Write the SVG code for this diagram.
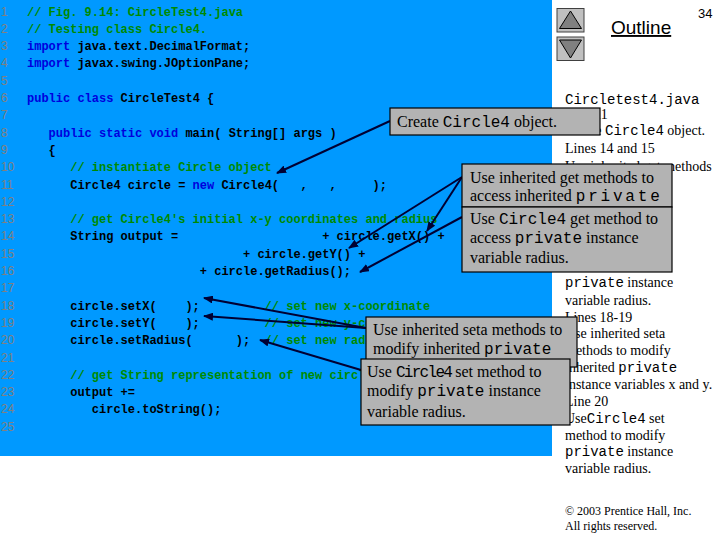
<svg xmlns="http://www.w3.org/2000/svg" width="720" height="540" viewBox="0 0 720 540">
<style>
.code{font-family:"Liberation Mono","DejaVu Sans Mono",monospace;font-size:12px;font-weight:bold;fill:#000000}
.kw{fill:#0000DD}
.cm{fill:#008A00}
.ln{font-family:"Liberation Sans",Arial,sans-serif;font-size:12px;fill:#808080}
.box{fill:#B3B3B3;stroke:#000000;stroke-width:1.2}
.bt{font-family:"Liberation Serif","Times New Roman",serif;font-size:16px;fill:#000000}
.bm{font-family:"Liberation Mono","Courier New",monospace;font-size:16px}
.rt{font-family:"Liberation Serif","Times New Roman",serif;font-size:14px;fill:#000000}
.rm{font-family:"Liberation Mono","Courier New",monospace;font-size:14px}
.conn{stroke:#000033;stroke-width:2;fill:none;marker-end:url(#ah)}
.btn{fill:#C0C0C0;stroke:#404040;stroke-width:1}
.tri{fill:#808080;stroke:#000000;stroke-width:1}
</style>
<defs>
<marker id="ah" viewBox="0 0 10 8" refX="9" refY="4" markerWidth="10" markerHeight="8" orient="auto" markerUnits="userSpaceOnUse">
<path d="M0,0 L10,4 L0,8 z" fill="#000033"/>
</marker>
</defs>
<rect x="0" y="0" width="720" height="540" fill="#FFFFFF"/>
<rect id="codePanel" x="0" y="0" width="552" height="456" fill="#0099FF"/>

<g id="lineNumbers" class="ln">
<text x="1" y="15.5">1</text>
<text x="1" y="32.8">2</text>
<text x="1" y="50.1">3</text>
<text x="1" y="67.4">4</text>
<text x="1" y="84.7">5</text>
<text x="1" y="102">6</text>
<text x="1" y="119.3">7</text>
<text x="1" y="136.6">8</text>
<text x="1" y="153.9">9</text>
<text x="1" y="171.2">10</text>
<text x="1" y="188.5">11</text>
<text x="1" y="205.8">12</text>
<text x="1" y="223.1">13</text>
<text x="1" y="240.4">14</text>
<text x="1" y="257.7">15</text>
<text x="1" y="275">16</text>
<text x="1" y="292.3">17</text>
<text x="1" y="309.6">18</text>
<text x="1" y="326.9">19</text>
<text x="1" y="344.2">20</text>
<text x="1" y="361.5">21</text>
<text x="1" y="378.8">22</text>
<text x="1" y="396.1">23</text>
<text x="1" y="413.4">24</text>
<text x="1" y="430.7">25</text>
</g>

<g id="code" class="code">
<text x="27" y="15.5" class="cm">// Fig. 9.14: CircleTest4.java</text>
<text x="27" y="32.8" class="cm">// Testing class Circle4.</text>
<text x="27" y="50.1"><tspan class="kw">import</tspan> java.text.DecimalFormat;</text>
<text x="27" y="67.4"><tspan class="kw">import</tspan> javax.swing.JOptionPane;</text>
<text x="27" y="102"><tspan class="kw">public class</tspan> CircleTest4 {</text>
<text x="48.6" y="136.6"><tspan class="kw">public static void</tspan> main( String[] args )</text>
<text x="48.6" y="153.9">{</text>
<text x="70.2" y="171.2" class="cm">// instantiate Circle object</text>
<text x="70.2" y="188.5">Circle4 circle = <tspan class="kw">new</tspan> Circle4(</text>
<text x="300.6" y="188.5">,</text>
<text x="329.4" y="188.5">,</text>
<text x="372.6" y="188.5">);</text>
<text x="70.2" y="223.1" class="cm">// get Circle4's initial x-y coordinates and radius</text>
<text x="70.2" y="240.4">String output =</text>
<text x="322.2" y="240.4">+ circle.getX() +</text>
<text x="243" y="257.7">+ circle.getY() +</text>
<text x="199.8" y="275">+ circle.getRadius();</text>
<text x="70.2" y="309.6">circle.setX(</text>
<text x="185.4" y="309.6">);</text>
<text x="264.6" y="309.6" class="cm">// set new x-coordinate</text>
<text x="70.2" y="326.9">circle.setY(</text>
<text x="185.4" y="326.9">);</text>
<text x="264.6" y="326.9" class="cm">// set new y-coordinate</text>
<text x="70.2" y="344.2">circle.setRadius(</text>
<text x="235.8" y="344.2">);</text>
<text x="264.6" y="344.2" class="cm">// set new radius</text>
<text x="70.2" y="378.8" class="cm">// get String representation of new circle</text>
<text x="70.2" y="396.1">output +=</text>
<text x="91.8" y="413.4">circle.toString();</text>
</g>

<g id="outlineNav">
<rect class="btn" x="557" y="8.5" width="27" height="23.5"/>
<polygon class="tri" points="570.5,11 559.5,28.5 581.5,28.5"/>
<rect class="btn" x="557" y="37" width="27" height="23.5"/>
<polygon class="tri" points="559.5,40 581.5,40 570.5,58"/>
<text x="611" y="34" font-family="Liberation Sans,Arial,sans-serif" font-size="19" text-decoration="underline" fill="#000000">Outline</text>
<text x="698" y="18" font-family="Liberation Sans,Arial,sans-serif" font-size="13" fill="#000000">34</text>
</g>

<g id="notesColumn" class="rt">
<text x="565" y="103.6" class="rm">Circletest4.java</text>
<text x="565" y="119">Line 11</text>
<text x="565" y="134.5">Create <tspan class="rm">Circle4</tspan> object.</text>
<text x="565" y="153">Lines 14 and 15</text>
<text x="565" y="170.5">Use inherited get methods</text>
<text x="565" y="287"><tspan class="rm">private</tspan> instance</text>
<text x="565" y="305.2">variable radius.</text>
<text x="565" y="322">Lines 18-19</text>
<text x="565" y="338">Use inherited seta</text>
<text x="565" y="355">methods to modify</text>
<text x="565" y="372">inherited <tspan class="rm">private</tspan></text>
<text x="565" y="389">instance variables x and y.</text>
<text x="565" y="406">Line 20</text>
<text x="565" y="422.8">Use<tspan class="rm">Circle4</tspan> set</text>
<text x="565" y="439.6">method to modify</text>
<text x="565" y="456.4"><tspan class="rm">private</tspan> instance</text>
<text x="565" y="473.2">variable radius.</text>
<text x="565" y="515" font-size="12">© 2003 Prentice Hall, Inc.</text>
<text x="565" y="530" font-size="12">All rights reserved.</text>
</g>

<g id="connectors">
<line class="conn" x1="390" y1="121" x2="277" y2="173"/>
<line class="conn" x1="462" y1="177" x2="427" y2="231"/>
<line class="conn" x1="462" y1="177" x2="349" y2="248"/>
<line class="conn" x1="462" y1="217" x2="360" y2="272"/>
<line class="conn" x1="366" y1="328" x2="204" y2="298"/>
<line class="conn" x1="366" y1="328" x2="204" y2="316"/>
<line class="conn" x1="361" y1="370" x2="260" y2="340"/>
</g>

<g id="calloutCreate">
<rect class="box" x="390" y="108" width="210" height="27"/>
<text class="bt" x="397" y="127">Create <tspan class="bm">Circle4</tspan> object.</text>
</g>

<g id="calloutInheritedGet">
<rect class="box" x="462" y="164" width="210" height="43"/>
<text class="bt" x="470" y="183">Use inherited get methods to</text>
<text class="bt" x="470" y="201">access inherited <tspan class="bm" textLength="84" lengthAdjust="spacing">private</tspan></text>
</g>

<g id="calloutCircle4Get">
<rect class="box" x="462" y="207" width="210" height="65"/>
<text class="bt" x="470" y="224">Use <tspan class="bm">Circle4</tspan> get method to</text>
<text class="bt" x="470" y="243">access <tspan class="bm">private</tspan> instance</text>
<text class="bt" x="470" y="263">variable radius.</text>
</g>

<g id="calloutInheritedSet">
<rect class="box" x="366" y="317" width="211" height="50"/>
<text class="bt" x="373" y="335">Use inherited seta methods to</text>
<text class="bt" x="373" y="354">modify inherited <tspan class="bm">private</tspan></text>
</g>

<g id="calloutCircle4Set">
<rect class="box" x="361" y="359" width="209" height="66"/>
<text class="bt" x="367" y="377">Use <tspan class="bm" textLength="57" lengthAdjust="spacing">Circle4</tspan> set method to</text>
<text class="bt" x="367" y="396">modify <tspan class="bm">private</tspan> instance</text>
<text class="bt" x="367" y="417">variable radius.</text>
</g>
</svg>
